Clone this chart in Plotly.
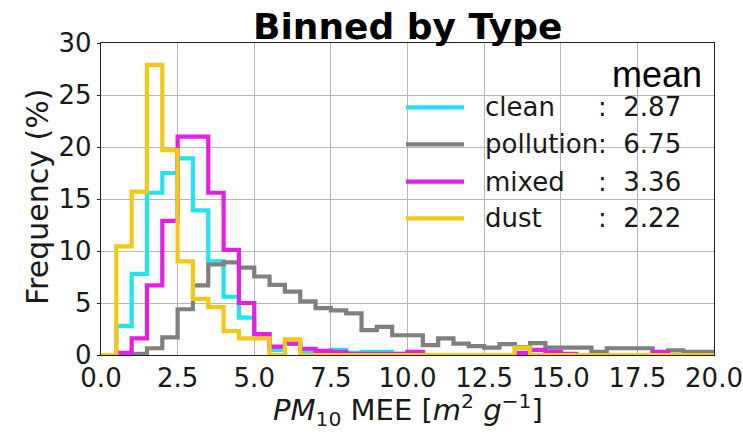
import numpy as np
import plotly.graph_objects as go

# Histogram bins: 0.5 m2/g wide, from 0 to 20
bin_edges = np.linspace(0.0, 20.0, 41)

# Frequency (%) in each bin, per aerosol type
clean = [0.0, 2.8, 7.8, 15.6, 17.5, 18.9, 13.9, 9.0, 5.6, 3.6,
         1.9, 0.5, 1.1, 0.4, 0.3, 0.5, 0.2, 0.3, 0.3, 0.1,
         0.2, 0.0, 0.0, 0.0, 0.0, 0.0, 0.0, 0.0, 0.0, 0.0,
         0.0, 0.0, 0.0, 0.0, 0.0, 0.0, 0.0, 0.0, 0.0, 0.0]
pollution = [0.0, 0.0, 0.1, 0.65, 1.7, 4.4, 6.7, 8.7, 8.9, 8.4,
             7.55, 6.75, 6.1, 5.15, 4.5, 4.3, 4.0, 2.4, 2.7, 1.9,
             1.9, 0.95, 1.6, 1.1, 0.85, 0.7, 1.05, 0.75, 1.15, 0.7,
             0.7, 0.7, 0.3, 0.65, 0.65, 0.65, 0.25, 0.45, 0.3, 0.3]
mixed = [0.0, 0.2, 1.6, 6.7, 12.9, 21.0, 21.0, 15.6, 10.1, 5.0,
         2.0, 0.8, 1.1, 0.6, 0.4, 0.3, 0.1, 0.1, 0.1, 0.1,
         0.3, 0.0, 0.0, 0.0, 0.0, 0.0, 0.0, 0.2, 0.5, 0.3,
         0.1, 0.0, 0.0, 0.0, 0.0, 0.0, 0.3, 0.0, 0.0, 0.0]
dust = [0.0, 10.45, 15.7, 27.9, 19.7, 9.0, 5.4, 4.6, 2.3, 1.6,
        1.6, 0.0, 1.5, 0.0, 0.0, 0.0, 0.0, 0.0, 0.0, 0.0,
        0.0, 0.0, 0.0, 0.0, 0.0, 0.0, 0.0, 0.7, 0.0, 0.0,
        0.0, 0.0, 0.0, 0.0, 0.0, 0.0, 0.0, 0.0, 0.0, 0.0]

type_names = ["clean", "pollution", "mixed", "dust"]
type_means = ["2.87", "6.75", "3.36", "2.22"]
type_colors = ["#22e4ee", "#808080", "#e41ee4", "#f4c916"]
series = [clean, pollution, mixed, dust]

x_ticks = [0.0, 2.5, 5.0, 7.5, 10.0, 12.5, 15.0, 17.5, 20.0]
y_ticks = [0, 5, 10, 15, 20, 25, 30]

FONT = "DejaVu Sans"
LINE_W = 4.2


def step_outline(edges, heights):
    """Outline of a step histogram: up from the baseline, across each bin, back down."""
    xs = [edges[0]] + list(edges[:-1]) + [edges[-1], edges[-1]]
    ys = [0.0] + list(heights) + [heights[-1], 0.0]
    return xs, ys


fig = go.Figure()
for name, vals, col in zip(type_names, series, type_colors):
    xs, ys = step_outline(bin_edges, vals)
    fig.add_trace(go.Scatter(
        x=xs, y=ys, mode="lines", name=name,
        line=dict(color=col, width=LINE_W, shape="hv"),
        showlegend=False, hoverinfo="skip",
    ))

W, H = 743, 439
ML, MR, MT, MB = 101, 29, 43, 84
PW, PH = W - ML - MR, H - MT - MB


def px_x(p):
    return (p - ML) / PW


def px_y(p):
    return 1 - (p - MT) / PH


# Hand-placed legend: sample line, type name, and ":  mean"
legend_rows_px = [107.3, 144.3, 181.7, 218.3]
shapes = []
annotations = []
for name, mean, col, ypx in zip(type_names, type_means, type_colors, legend_rows_px):
    yy = px_y(ypx)
    shapes.append(dict(type="line", xref="paper", yref="paper",
                       x0=px_x(406), x1=px_x(464), y0=yy, y1=yy,
                       line=dict(color=col, width=LINE_W)))
    annotations.append(dict(xref="paper", yref="paper", x=px_x(483), y=yy,
                            xanchor="left", yanchor="middle", showarrow=False,
                            text=name, font=dict(family=FONT, size=26, color="#1a1a1a")))
    annotations.append(dict(xref="paper", yref="paper", x=px_x(596), y=yy,
                            xanchor="left", yanchor="middle", showarrow=False,
                            text=":  " + mean, font=dict(family=FONT, size=26, color="#1a1a1a")))

annotations.append(dict(xref="paper", yref="paper", x=px_x(704), y=px_y(74),
                        xanchor="right", yanchor="middle", showarrow=False,
                        text="mean", font=dict(family="Liberation Sans", size=36, color="black")))

# Axis titles
annotations.append(dict(xref="paper", yref="paper", x=px_x(37), y=px_y(197),
                        xanchor="center", yanchor="middle", showarrow=False, textangle=-90,
                        text="Frequency (%)", font=dict(family=FONT, size=30, color="#1a1a1a")))
annotations.append(dict(xref="paper", yref="paper", x=px_x(408), y=px_y(410),
                        xanchor="center", yanchor="middle", showarrow=False,
                        text="<i>PM</i><sub>10</sub> MEE [<i>m</i><sup>2</sup> <i>g</i><sup>−1</sup>]",
                        font=dict(family=FONT, size=29, color="#1a1a1a")))

# Title
annotations.append(dict(xref="paper", yref="paper", x=0.5, y=px_y(27),
                        xanchor="center", yanchor="middle", showarrow=False,
                        text="<b>Binned by Type</b>",
                        font=dict(family=FONT, size=36, color="black")))

axis_common = dict(
    showline=True, linecolor="#222222", linewidth=1.3, mirror=True,
    showgrid=True, gridcolor="#b8b8b8", gridwidth=1,
    tickfont=dict(family=FONT, size=26, color="#1a1a1a"),
    zeroline=False, automargin=False,
)

fig.update_layout(
    width=W, height=H,
    margin=dict(l=ML, r=MR, t=MT, b=MB),
    paper_bgcolor="white", plot_bgcolor="white",
    xaxis=dict(range=[0, 20], tickvals=x_ticks, ticktext=[f"{v:.1f}" for v in x_ticks],
               ticks="", **axis_common),
    yaxis=dict(range=[0, 30], tickvals=y_ticks, ticktext=[str(v) for v in y_ticks],
               ticks="outside", ticklen=3, tickwidth=1.2, tickcolor="#222222", **axis_common),
    shapes=shapes,
    annotations=annotations,
    showlegend=False,
)

fig.write_html("out.html")
